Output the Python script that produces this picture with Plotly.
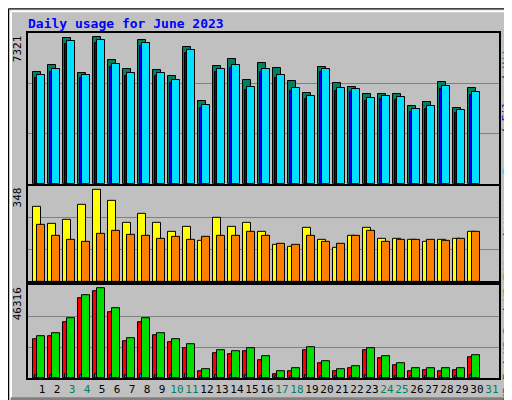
import plotly.graph_objects as go
from plotly.subplots import make_subplots

days = list(range(1, 32))
weekend_days = [3, 4, 10, 11, 17, 18, 24, 25, 31]

hits = [5597, 5942, 7271, 5548, 7321, 6188, 5745, 7173, 5696, 5400, 6828, 4121, 5893, 6237, 5204,
        6055, 5760, 5120, 4529, 5858, 5021, 4825, 4480, 4480, 4480, 3889, 4086, 5071, 3791, 4775]
files = [5300, 5595, 6974, 5300, 7023, 5841, 5398, 6875, 5398, 5054, 6531, 3774, 5595, 5792, 4709,
         5561, 5265, 4625, 4231, 5561, 4625, 4576, 4133, 4231, 4182, 3591, 3739, 4724, 3542, 4428]
pages = [5450, 5745, 7124, 5450, 7173, 5991, 5548, 7025, 5548, 5204, 6681, 3924, 5745, 5942, 4859,
         5711, 5415, 4775, 4381, 5711, 4775, 4726, 4283, 4381, 4332, 3741, 3889, 4874, 3692, 4578]
visits = [284, 220, 235, 292, 348, 307, 224, 258, 224, 190, 209, 153, 243, 209, 224,
          187, 138, 130, 205, 160, 127, 175, 205, 164, 164, 160, 149, 160, 164, 187]
sites = [217, 175, 157, 149, 183, 194, 179, 175, 164, 168, 157, 168, 172, 175, 187,
         172, 145, 138, 172, 149, 142, 175, 194, 149, 160, 160, 157, 153, 164, 190]
kb_f = [19851, 21378, 29013, 41229, 44792, 34103, 18833, 29013, 21887, 18324, 15270, 3563, 12725, 12216, 13743,
        9162, 2036, 3563, 14252, 7635, 3563, 5090, 14252, 10180, 6617, 3563, 4072, 3563, 4072, 10689]
kb_in = [1500, 1500, 2000, 1500, 2000, 1500, 1500, 2000, 1500, 1500, 2000, 1000, 1500, 1500, 1500,
         1000, 1000, 1000, 1500, 1000, 1000, 1000, 1500, 1000, 1000, 1000, 1000, 1000, 1000, 1500]
kb_out = [21378, 23414, 31049, 42756, 46316, 36139, 20360, 31049, 23414, 19851, 17306, 4581, 14252, 13743, 15270,
          11198, 3563, 5090, 15779, 8653, 4581, 6108, 15270, 11198, 7635, 5090, 5090, 5090, 5090, 11707]

x = days[:30]
W = 0.54
fig = make_subplots(rows=3, cols=1, shared_xaxes=True, vertical_spacing=0.0)

def bar(y, color, offset, row, width=W):
    fig.add_trace(go.Bar(x=x, y=y, width=width, offset=offset, marker_color=color,
                         marker_line=dict(color='black', width=1)), row=row, col=1)

bar(hits, '#008060', -0.6, 1)
bar(files, '#0000ff', -0.47, 1)
bar(pages, '#00e0ff', -0.33, 1)
bar(visits, '#ffff00', -0.6, 2)
bar(sites, '#ff8000', -0.33, 2)
bar(kb_f, '#ff0000', -0.6, 3)
bar(kb_in, '#0080ff', -0.47, 3, width=0.13)
bar(kb_out, '#00e000', -0.33, 3)

ranges = [7532, 364, 48000]
domains = [[0.563, 1.0], [0.28, 0.557], [0.0, 0.269]]
for i in range(3):
    r = ranges[i]
    fig.update_yaxes(range=[0, r], tickvals=[r / 3, 2 * r / 3], showticklabels=False,
                     gridcolor='#808080', gridwidth=1, showline=True, linecolor='black',
                     linewidth=2, mirror=True, zeroline=False, domain=domains[i],
                     row=i + 1, col=1)
    fig.update_xaxes(range=[0.07, 31.47], showline=True, linecolor='black', linewidth=2,
                     mirror=True, showgrid=False, zeroline=False, row=i + 1, col=1)

mono = 'DejaVu Sans Mono'
ticktext = [f"<span style='color:#008060'>{d}</span>" if d in weekend_days else str(d) for d in days]
fig.update_xaxes(tickvals=days, ticktext=ticktext, ticks='', tickangle=0, row=3, col=1,
                 tickfont=dict(family=mono, size=11, color='black'))

ann = [
    dict(text='7321', x=-0.022, y=1.0, yanchor='top'),
    dict(text='348', x=-0.022, y=0.557, yanchor='top'),
    dict(text='46316', x=-0.022, y=0.269, yanchor='top'),
]
for a in ann:
    fig.add_annotation(xref='paper', yref='paper', xanchor='center', textangle=-90,
                       showarrow=False, font=dict(family=mono, size=11, color='black'), **a)

right = [
    ("<span style='color:#00e0ff'>Pages</span> / <span style='color:#0000ff'>Files</span> / "
     "<span style='color:#008060'>Hits</span>", 0.781),
    ("<span style='color:#ff8000'>Sites</span> / <span style='color:#ffff00'>Visits</span>", 0.42),
    ("<span style='color:#ff0000'>KB F</span> / <span style='color:#0080ff'>KB In</span> / "
     "<span style='color:#00e000'>KB Out</span>", 0.135),
]
for txt, yy in right:
    fig.add_annotation(xref='paper', yref='paper', x=1.0, xshift=8, y=yy,
                       xanchor='center', yanchor='middle',
                       text=txt, textangle=-90, showarrow=False,
                       font=dict(family=mono, size=11, color='black'))

def px_x(p):
    return (p - 20) / 471

def px_y(p):
    return (375 - p) / 350

fig.add_shape(type='rect', xref='paper', yref='paper', x0=px_x(0.5), x1=px_x(511.5),
              y0=px_y(399.5), y1=px_y(0.5), line=dict(color='black', width=1), layer='below')
fig.add_shape(type='line', xref='paper', yref='paper', x0=px_x(3), x1=px_x(3),
              y0=px_y(395), y1=px_y(3), line=dict(color='white', width=2), layer='below')
fig.add_shape(type='line', xref='paper', yref='paper', x0=px_x(3), x1=px_x(506),
              y0=px_y(3), y1=px_y(3), line=dict(color='white', width=2), layer='below')
fig.add_shape(type='line', xref='paper', yref='paper', x0=px_x(507), x1=px_x(507),
              y0=px_y(396), y1=px_y(3), line=dict(color='#808080', width=3), layer='below')
fig.add_shape(type='line', xref='paper', yref='paper', x0=px_x(3), x1=px_x(507),
              y0=px_y(396), y1=px_y(396), line=dict(color='#808080', width=3), layer='below')

fig.update_layout(
    width=512, height=400,
    margin=dict(l=20, r=21, t=25, b=25),
    barmode='overlay', bargap=0,
    showlegend=False,
    paper_bgcolor='#c0c0c0', plot_bgcolor='#c0c0c0',
    title=dict(text='<b>Daily usage for June 2023</b>', x=20 / 512, xanchor='left',
               y=1 - 15 / 400, yanchor='middle',
               font=dict(family=mono, size=13, color='#0000ff')),
)

fig.write_html("out.html")
